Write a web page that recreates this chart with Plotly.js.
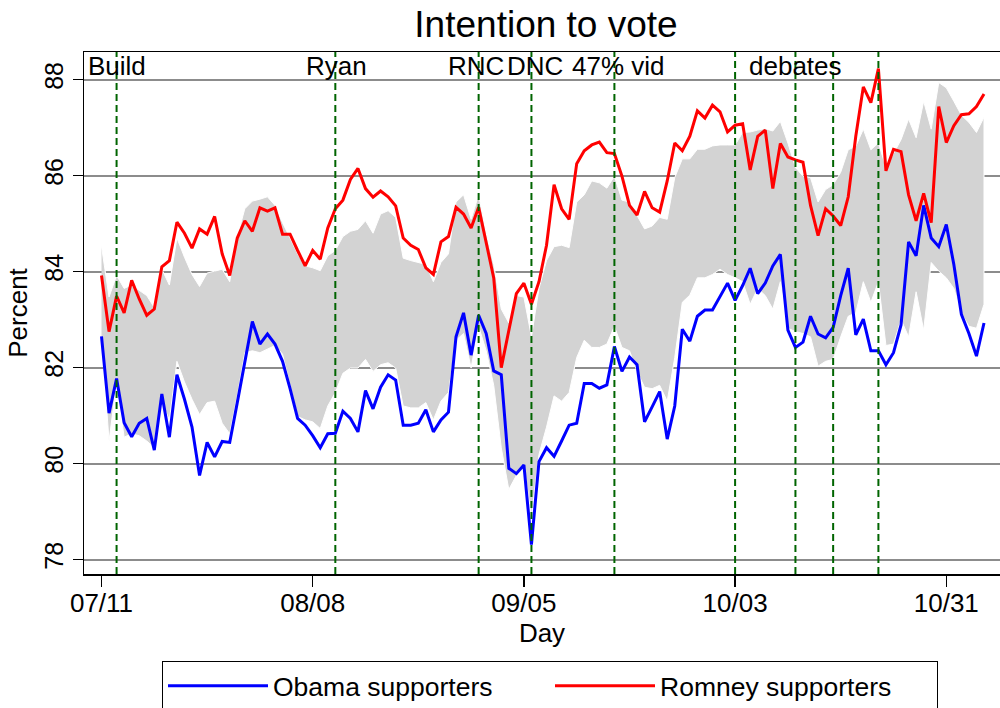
<!DOCTYPE html>
<html>
<head>
<meta charset="utf-8">
<script src="https://cdn.plot.ly/plotly-3.0.1.min.js"></script>
<style>html,body{margin:0;padding:0;background:#fff;}#chart{width:1000px;height:708px;}</style>
</head>
<body>
<div id="chart"></div>
<script>
// Days since 07/11 (2012)
var startDate = "2012-07-11";
var tickDays = [0, 28, 56, 84, 112];
var tickLabels = ["07/11", "08/08", "09/05", "10/03", "10/31"];

var obama = [82.65,81.05,81.77,80.85,80.56,80.84,80.94,80.28,81.45,80.55,81.85,81.34,80.76,79.75,80.44,80.14,80.46,80.44,81.27,82.13,
82.96,82.49,82.70,82.49,82.13,81.56,80.94,80.80,80.58,80.33,80.62,80.63,81.09,80.94,80.66,81.52,81.14,81.59,81.85,81.74,
80.80,80.80,80.84,81.12,80.66,80.91,81.07,82.64,83.14,82.26,83.09,82.71,81.93,81.85,79.90,79.79,79.97,78.31,80.04,80.33,
80.15,80.47,80.80,80.84,81.67,81.67,81.57,81.64,82.44,81.92,82.22,82.06,80.87,81.18,81.50,80.51,81.20,82.80,82.55,83.07,
83.20,83.20,83.47,83.76,83.40,83.71,84.07,83.54,83.76,84.12,84.36,82.78,82.42,82.53,83.07,82.70,82.62,82.84,83.50,84.07,
82.68,83.01,82.35,82.35,82.06,82.31,82.89,84.62,84.33,85.38,84.70,84.52,84.98,84.15,83.11,82.71,82.24,82.93];

var romney = [83.92,82.75,83.49,83.14,83.82,83.43,83.09,83.22,84.10,84.23,85.03,84.80,84.49,84.89,84.78,85.15,84.37,83.92,84.70,85.06,
84.84,85.33,85.26,85.33,84.78,84.78,84.44,84.12,84.44,84.26,84.91,85.31,85.49,85.92,86.15,85.73,85.55,85.68,85.56,85.37,
84.70,84.55,84.46,84.08,83.94,84.62,84.73,85.34,85.20,84.91,85.34,84.59,83.87,82.00,82.78,83.54,83.76,83.32,83.79,84.55,
85.81,85.31,85.09,86.25,86.52,86.64,86.70,86.48,86.46,85.99,85.38,85.18,85.67,85.33,85.24,85.89,86.68,86.52,86.82,87.35,
87.20,87.47,87.33,86.91,87.05,87.08,86.12,86.82,86.95,85.73,86.67,86.39,86.33,86.28,85.38,84.75,85.31,85.16,84.96,85.56,
86.82,87.85,87.52,88.23,86.10,86.55,86.50,85.60,85.06,85.63,85.02,87.44,86.69,87.04,87.27,87.29,87.44,87.70];

var bandUpper = [84.53,83.47,83.92,83.65,83.72,83.61,83.50,83.25,84.05,83.72,84.70,84.30,83.94,83.69,83.97,84.01,84.05,83.79,84.73,85.31,
85.47,85.51,85.56,85.38,85.02,84.70,84.37,84.12,84.08,84.02,84.33,84.44,84.73,84.84,84.88,85.06,84.80,85.20,85.27,85.13,
84.28,84.23,84.19,84.15,83.79,84.19,84.37,85.45,85.60,85.09,85.60,84.80,84.15,83.22,82.93,83.50,83.47,82.64,83.65,84.23,
84.52,84.55,84.50,85.45,85.60,85.89,85.85,85.74,85.99,85.49,85.45,85.16,84.89,84.95,85.13,85.09,85.96,86.35,86.35,86.55,
86.55,86.62,86.64,86.64,86.64,86.90,86.91,86.95,86.98,86.93,87.13,86.68,86.17,85.99,85.96,85.45,85.71,85.81,86.07,86.54,
86.61,86.97,86.54,86.68,86.17,86.46,86.75,87.18,86.79,87.55,86.97,87.94,87.83,87.55,87.26,87.11,86.90,87.22];

var bandLower = [82.64,80.47,81.70,80.55,80.62,80.58,80.47,80.33,81.27,80.91,82.13,81.70,81.34,81.02,81.27,81.30,80.84,80.62,81.41,82.31,
82.35,82.31,82.39,82.46,82.28,81.63,80.98,80.91,80.87,80.73,81.20,81.48,81.88,81.99,81.99,82.17,81.92,82.06,82.10,81.99,
81.20,81.16,81.16,81.27,80.91,81.30,81.48,82.57,82.71,81.99,82.86,82.35,81.63,80.33,79.46,79.75,79.97,78.89,80.19,80.76,
81.41,81.30,81.48,82.21,82.57,82.42,82.42,82.49,82.86,82.42,82.35,81.92,81.59,81.56,81.63,81.30,82.21,83.36,83.51,83.87,
83.87,83.94,84.05,83.94,83.87,83.79,83.32,83.65,83.50,83.22,83.79,82.82,82.75,82.71,82.64,82.03,82.13,82.17,82.64,83.07,
83.14,83.79,83.36,83.79,82.46,82.49,83.00,82.64,83.58,82.78,84.19,84.01,83.87,83.65,83.14,82.86,82.82,83.32];

var eventDays = [2, 31, 50, 57, 68, 84, 92, 97, 103];
var eventLabels = ["Build", "Ryan", "RNC", "DNC", "47% vid", "debates"];
var eventLabelDays = [2.05, 31.1, 49.6, 57.5, 68.5, 92.0];

var days = obama.map(function (_, i) { return i; });

var FONT = "Liberation Sans, Arial, Helvetica, sans-serif";

var band = {
  x: days.concat(days.slice().reverse()),
  y: bandUpper.concat(bandLower.slice().reverse()),
  type: "scatter", mode: "lines", fill: "toself",
  fillcolor: "#d3d3d3", line: {color: "#ffffff", width: 1},
  showlegend: false, hoverinfo: "skip"
};
var tObama = {
  x: days, y: obama, type: "scatter", mode: "lines", name: "Obama supporters",
  line: {color: "#0000ff", width: 3}
};
var tRomney = {
  x: days, y: romney, type: "scatter", mode: "lines", name: "Romney supporters",
  line: {color: "#ff0000", width: 3}
};

var shapes = eventDays.map(function (d) {
  return {type: "line", xref: "x", yref: "paper", x0: d, x1: d, y0: 0, y1: 1,
    line: {color: "#006400", width: 2, dash: "7px,4px"}, layer: "above"};
});
var annotations = eventLabels.map(function (t, i) {
  return {text: t, x: eventLabelDays[i], xref: "x", y: 0.9738, yref: "paper",
    xanchor: "center", yanchor: "middle", showarrow: false,
    font: {family: FONT, size: 26, color: "#000"}};
});

var layout = {
  width: 1000, height: 708,
  margin: {l: 83.5, r: 0, t: 52.3, b: 133.5, autoexpand: false},
  paper_bgcolor: "#fff", plot_bgcolor: "#fff",
  font: {family: FONT, size: 26, color: "#000"},
  title: {text: "Intention to vote", font: {family: FONT, size: 37, color: "#000"},
    xref: "container", x: 0.546, xanchor: "center", yref: "container", y: 0.966, yanchor: "middle"},
  xaxis: {
    range: [-2.32, 119.12], tickmode: "array", tickvals: tickDays, ticktext: tickLabels,
    ticks: "outside", ticklen: 11, tickwidth: 1.5, tickcolor: "#000", automargin: false,
    ticklabelstandoff: -6,
    showgrid: false, zeroline: false, showline: true, linecolor: "#000", linewidth: 1.5, mirror: true,
    tickfont: {size: 26},
    title: {text: "Day", font: {size: 26}, standoff: 2}
  },
  yaxis: {
    range: [77.698, 88.577], tickmode: "array", tickvals: [78, 80, 82, 84, 86, 88],
    ticks: "outside", ticklen: 10, tickwidth: 1.5, tickcolor: "#000", tickangle: -90, automargin: false,
    showgrid: true, gridcolor: "#8c8c8c", gridwidth: 2,
    zeroline: false, showline: true, linecolor: "#000", linewidth: 1.5, mirror: true,
    tickfont: {size: 25},
    title: {text: "Percent", font: {size: 26}, standoff: 4}
  },
  legend: {
    orientation: "h", xref: "container", yref: "container", x: 0.162, xanchor: "left", y: 0.0664, yanchor: "top",
    bordercolor: "#000", borderwidth: 1, bgcolor: "#fff",
    font: {size: 26.5}, itemwidth: 100, entrywidth: 272, traceorder: "normal"
  },
  shapes: shapes,
  annotations: annotations,
  showlegend: true
};

Plotly.newPlot("chart", [band, tObama, tRomney], layout, {displayModeBar: false, staticPlot: true});
</script>
</body>
</html>
